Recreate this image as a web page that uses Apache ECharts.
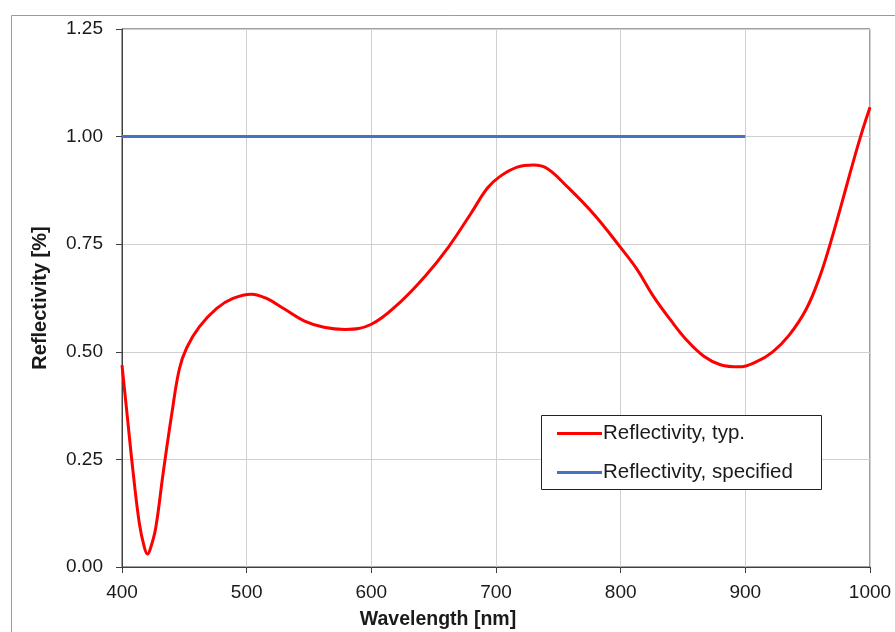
<!DOCTYPE html>
<html>
<head>
<meta charset="utf-8">
<script src="https://cdn.jsdelivr.net/npm/echarts@6/dist/echarts.min.js"></script>
<style>
html,body{margin:0;padding:0;background:#fff;}
#chart{width:895px;height:632px;}
</style>
</head>
<body>
<div id="chart"></div>
<script>
// Data
const wavelengths = [400, 404, 409, 414, 418, 420.5, 423, 427, 433, 440, 446, 452, 462, 476, 489, 504, 516, 530, 546, 562, 579, 600, 623, 643, 662, 680, 693, 703, 717, 730, 741, 757, 779, 800, 813, 826, 840, 853, 867, 880, 895, 909, 922, 935, 949, 960, 968, 976, 984, 992, 1000];
const reflTyp = [0.469, 0.357, 0.218, 0.10, 0.045, 0.030, 0.045, 0.09, 0.218, 0.357, 0.46, 0.51, 0.558, 0.601, 0.624, 0.634, 0.624, 0.60, 0.572, 0.557, 0.552, 0.564, 0.615, 0.675, 0.744, 0.822, 0.880, 0.907, 0.929, 0.934, 0.926, 0.884, 0.818, 0.742, 0.692, 0.630, 0.574, 0.527, 0.489, 0.470, 0.465, 0.477, 0.50, 0.538, 0.60, 0.677, 0.75, 0.831, 0.915, 0.996, 1.068];
const specWavelengths = [400, 900];
const reflSpec = [1.0, 1.0];
const seriesNames = ['Reflectivity, typ.', 'Reflectivity, specified'];
const xTitle = 'Wavelength [nm]';
const yTitle = 'Reflectivity [%]';

const typData = wavelengths.map((w, i) => [w, reflTyp[i]]);
const specData = specWavelengths.map((w, i) => [w, reflSpec[i]]);

const font = 'Liberation Sans, Arial, sans-serif';
const chart = echarts.init(document.getElementById('chart'), null, {renderer: 'canvas'});
chart.setOption({
  backgroundColor: '#fff',
  animation: false,
  graphic: [
    {type: 'rect', shape: {x: 11.5, y: 15.5, width: 1000, height: 1000}, style: {fill: null, stroke: '#9a9a9a', lineWidth: 1}, z: -10, silent: true},
    {type: 'rect', shape: {x: 541.5, y: 415.5, width: 280, height: 74}, style: {fill: '#fff', stroke: '#222', lineWidth: 1}, z: 50, silent: true}
  ],
  grid: {left: 122, right: 25, top: 29, bottom: 65, containLabel: false, outerBoundsMode: 'none', show: true, borderColor: '#404040', borderWidth: 1, backgroundColor: 'transparent'},
  legend: {
    orient: 'vertical', left: 557, top: 423, z: 60,
    itemWidth: 45, itemHeight: 3, itemGap: 18, icon: 'rect',
    padding: 0,
    textStyle: {fontFamily: font, fontSize: 20.5, color: '#1a1a1a', lineHeight: 20, padding: [0, 0, 0, -4]},
    data: seriesNames
  },
  xAxis: {
    type: 'value', min: 400, max: 1000, interval: 100,
    name: xTitle, nameLocation: 'middle', nameGap: 43,
    nameTextStyle: {fontFamily: font, fontSize: 19.5, fontWeight: 'bold', color: '#1a1a1a', padding: [0, 116, 0, 0]},
    axisLine: {show: true, lineStyle: {color: '#404040', width: 1}},
    axisTick: {show: true, inside: false, length: 6, lineStyle: {color: '#404040'}},
    axisLabel: {fontFamily: font, fontSize: 19, color: '#1a1a1a', margin: 16, formatter: v => String(v)},
    splitLine: {show: true, lineStyle: {color: '#d0d0d0', width: 1}}
  },
  yAxis: {
    type: 'value', min: 0, max: 1.25, interval: 0.25,
    name: yTitle, nameLocation: 'middle', nameGap: 72, nameRotate: 90,
    nameTextStyle: {fontFamily: font, fontSize: 20, fontWeight: 'bold', color: '#1a1a1a'},
    axisLine: {show: true, lineStyle: {color: '#404040', width: 1}},
    axisTick: {show: true, inside: false, length: 6, lineStyle: {color: '#404040'}},
    axisLabel: {fontFamily: font, fontSize: 19, color: '#1a1a1a', margin: 19, formatter: v => v.toFixed(2)},
    splitLine: {show: true, lineStyle: {color: '#d0d0d0', width: 1}}
  },
  series: [
    {name: seriesNames[0], type: 'line', data: typData, smooth: 0.4, showSymbol: false, symbol: 'none',
     lineStyle: {color: '#ff0000', width: 3}, itemStyle: {color: '#ff0000'}, z: 3},
    {name: seriesNames[1], type: 'line', data: specData, showSymbol: false, symbol: 'none',
     lineStyle: {color: '#4472c4', width: 3}, itemStyle: {color: '#4472c4'}, z: 2}
  ]
});
</script>
</body>
</html>
